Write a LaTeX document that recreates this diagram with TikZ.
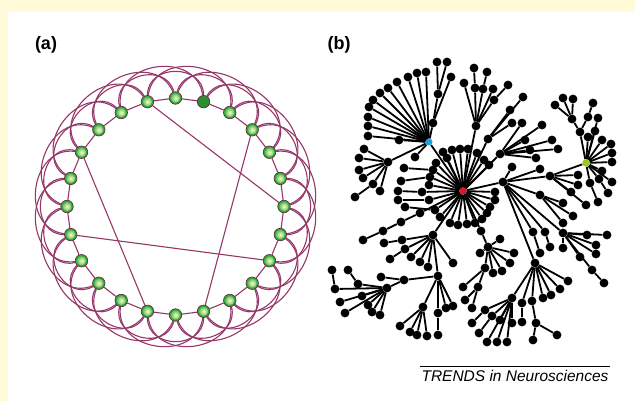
\documentclass[tikz,border=0pt]{standalone}
\usepackage{fontspec}
\setmainfont{Liberation Sans}
\usetikzlibrary{calc}
\pgfdeclarelayer{bottom}
\pgfdeclarelayer{background}
\pgfsetlayers{bottom,background,main}
\definecolor{bgy}{RGB}{255,250,215}
\definecolor{arcc}{RGB}{150,55,105}
\definecolor{ngreen}{RGB}{50,170,55}
\definecolor{nlight}{RGB}{252,252,205}
\definecolor{hubred}{RGB}{228,18,45}
\definecolor{hubblue}{RGB}{30,160,225}
\definecolor{hubgreen}{RGB}{150,200,30}
\newcommand\blink[2]{\begin{pgfonlayer}{background}\draw[bedge] (#1) -- (#2);\end{pgfonlayer}}
\newcommand\bkids[2]{\foreach \x/\y [count=\k] in {#2} {\node[dot] (#1-\k) at (\x,\y) {}; \blink{#1}{#1-\k}}}
\newcommand\hubat[3]{\node[dot] (#1) at (#2) {}; \blink{#3}{#1}}
\begin{document}
\begin{tikzpicture}[x=1pt,y=-1pt,
  anode/.style={circle,inner sep=0pt,minimum size=12.5pt,draw=arcc!60!black,line width=0.6pt,fill=ngreen,
     path picture={\shade[inner color=nlight,outer color=ngreen] (path picture bounding box.center) circle (4.6pt);}},
  hnode/.style={circle,inner sep=0pt,minimum size=12.5pt,draw=arcc!60!black,line width=0.6pt,fill=ngreen!85!black},
  lat/.style={draw=arcc,line width=1.1pt},
  dot/.style={circle,fill=black,inner sep=0pt,minimum size=8.8pt},
  cdot/.style={circle,inner sep=0pt,minimum size=7pt},
  bedge/.style={line width=1.8pt,black},
  lab/.style={font=\bfseries\fontsize{18}{20}\selectfont,inner sep=0pt}]
\begin{pgfonlayer}{bottom}
\fill[bgy] (0,0) rectangle (635,401);
\fill[white] (8,12) rectangle (635,401);
\end{pgfonlayer}
\useasboundingbox (0,0) rectangle (635,401);
% ---------- panel (a)
\foreach \i in {0,2,3,...,23}{
  \node[anode] (a\i) at ($(175.5,206.5)+(-90+15*\i:108.5)$) {};
}
\node[hnode] (a1) at ($(175.5,206.5)+(-75:108.5)$) {};
\begin{pgfonlayer}{background}
\foreach \i in {0,...,23}{
  \pgfmathtruncatemacro\ja{mod(\i+1,24)}
  \pgfmathtruncatemacro\jb{mod(\i+2,24)}
  \pgfmathtruncatemacro\jc{mod(\i+3,24)}
  \pgfmathsetmacro\mb{90-15*(\i+1)}
  \pgfmathsetmacro\mc{90-15*(\i+1.5)}
  \draw[lat] (a\i) -- (a\ja);
  \draw[lat] (a\i) to[out=\mb,in=\mb,looseness=1.45] (a\jb);
  \draw[lat] (a\i) to[out=\mc,in=\mc,looseness=1.4] (a\jc);
}
\draw[lat] (a23) -- (a6);
\draw[lat] (a20) -- (a13);
\draw[lat] (a17) -- (a8);
\draw[lat] (a3) -- (a11);
\end{pgfonlayer}
\node[lab] (la) at (46,45) {(a)};
\node[lab] (lb) at (339,45) {(b)};
% ---------- panel (b)
\node[cdot,fill=hubred] (R) at (463,191) {};
\node[cdot,fill=hubblue] (B) at (429,142) {};
\blink{R}{B}
\bkids{B}{368/136,368/126,368/117,369/107,373/100,380/93,388/88,397/82,408/77,417/73,426/72,399/140,415/157}
\hubat{S1}{433,123}{B}
\hubat{S2}{438,94}{S1}
\bkids{S1}{451/77}
\bkids{S2}{437/62,447/62}
\hubat{L1}{388,162}{B}
\bkids{L1}{364/149,359/158,359/170,363/178,380/191}
\hubat{L1b}{373,184}{L1}
\bkids{L1b}{355/197}
% hub leaves
\bkids{R}{443/152,452/150,460/149,468/149,477/153,436/163,429/185,440/217,450/223,458/225,467/224,475/223,482/219,487/213,490/207,495/200,495/192,489/165,447/158,484/160}
\hubat{Ra}{433,170}{R} \bkids{Ra}{404/168}
\hubat{Rb}{430,177}{R} \bkids{Rb}{401/181}
\hubat{Rc}{422,192}{R} \bkids{Rc}{398/191}
\hubat{Rd}{429,200}{R} \bkids{Rd}{398/200}
\hubat{Re}{435,210}{R} \bkids{Re}{405/207}
\hubat{C1}{420,213}{R}
\hubat{C2}{401,222}{C1}
\hubat{C3}{383,231}{C2}
\hubat{C4}{363,240}{C3}
% upper middle
\hubat{U}{476,126}{R}
\bkids{U}{464/83,493/89}
\hubat{Ua}{475,88}{U} \bkids{Ua}{474/68}
\hubat{Ub}{483,89}{U} \bkids{Ub}{487/72}
\hubat{Uc}{494,100}{U} \bkids{Uc}{508/85}
\hubat{V}{488,139}{R}
\bkids{V}{510/110,523/97,512/123}
\hubat{W}{500,154}{R}
\bkids{W}{522/123,542/125,525/140,552/140,558/149,530/150,536/158}
% right
\hubat{H2}{503,182}{R}
\bkids{H2}{512/167,540/169}
\hubat{Ha}{533,232}{H2} \bkids{Ha}{540/253}
\hubat{Hb}{545,232}{H2} \bkids{Hb}{550/247}
\hubat{X}{540,195}{H2}
\bkids{X}{563/203,573/216,563/223}
\hubat{N}{550,176}{H2}
\bkids{N}{578/175,578/185,571/192,586/205}
\node[cdot,fill=hubgreen,minimum size=7.5pt] (G) at (586,163) {};
\blink{N}{G}
\bkids{G}{602/140,611/144,612/153,612/162,602/171,612/182,588/137,595/131,598/118}
\hubat{Ga}{599,179}{G} \bkids{Ga}{608/193}
\hubat{Gb}{590,183}{G} \bkids{Gb}{598/202}
\hubat{Gc}{580,132}{G}
\hubat{Gd}{572,119}{Gc} \bkids{Gd}{555/105,563/98,573/99}
\hubat{Ge}{588,117}{Gc} \bkids{Ge}{593/103}
\hubat{H3}{563,233}{H2}
\bkids{H3}{587/235,607/235,596/245,596/254,580/257,563/248}
\hubat{H3a}{592,270}{H3} \bkids{H3a}{604/283}
\hubat{H4}{535,263}{H2}
\bkids{H4}{568/281,560/289,551/295,543/298}
\hubat{H4c}{522,303}{H4} \bkids{H4c}{522/322}
\hubat{H4a}{532,301}{H4}
\hubat{H4b}{536,323}{H4a} \bkids{H4b}{533/340,557/335}
\hubat{H5}{512,298}{H4}
\bkids{H5}{500/320,512/323,507/342,497/342,487/342}
\hubat{H5a}{485,310}{H5} \bkids{H5a}{472/323}
\hubat{H5b}{492,316}{H5} \bkids{H5b}{479/333}
% lower left
\hubat{P}{433,235}{R}
\bkids{P}{411/257,420/262,428/267,453/263}
\hubat{P1}{402,240}{P} \bkids{P1}{384/243}
\hubat{P2}{405,249}{P} \bkids{P2}{390/259}
\hubat{Q}{438,276}{P}
\bkids{Q}{446/308,453/306}
\hubat{Qa}{438,313}{Q} \bkids{Qa}{438/335}
\hubat{Q2}{423,307}{Q}
\bkids{Q2}{400/326,410/332,417/335,427/336}
\hubat{K0}{404,280}{Q}
\bkids{K0}{381/277}
\hubat{K}{387,288}{K0}
\bkids{K}{340/302,345/313,362/296,368/305,372/312,380/315}
\hubat{Ka}{358,284}{K} \bkids{Ka}{348/270}
\hubat{Kb}{335,289}{K} \bkids{Kb}{332/270}
% bottom middle
\hubat{M0}{481,231}{R}
\hubat{M}{488,247}{M0}
\bkids{M}{500/239,514/253,510/263,502/271,493/273,480/253}
\hubat{M3}{485,268}{M}
\bkids{M3}{463/287}
\hubat{M3a}{478,287}{M3} \bkids{M3a}{465/300,472/308}
% credit
\node[font=\itshape\fontsize{15.5}{17}\selectfont,inner sep=0pt] (tr) at (515,376) {TRENDS in Neurosciences};
\coordinate (r1) at (420,366);
\coordinate (r2) at (610,366);
\draw[line width=0.7pt] (r1) -- (r2);
\end{tikzpicture}
\end{document}
